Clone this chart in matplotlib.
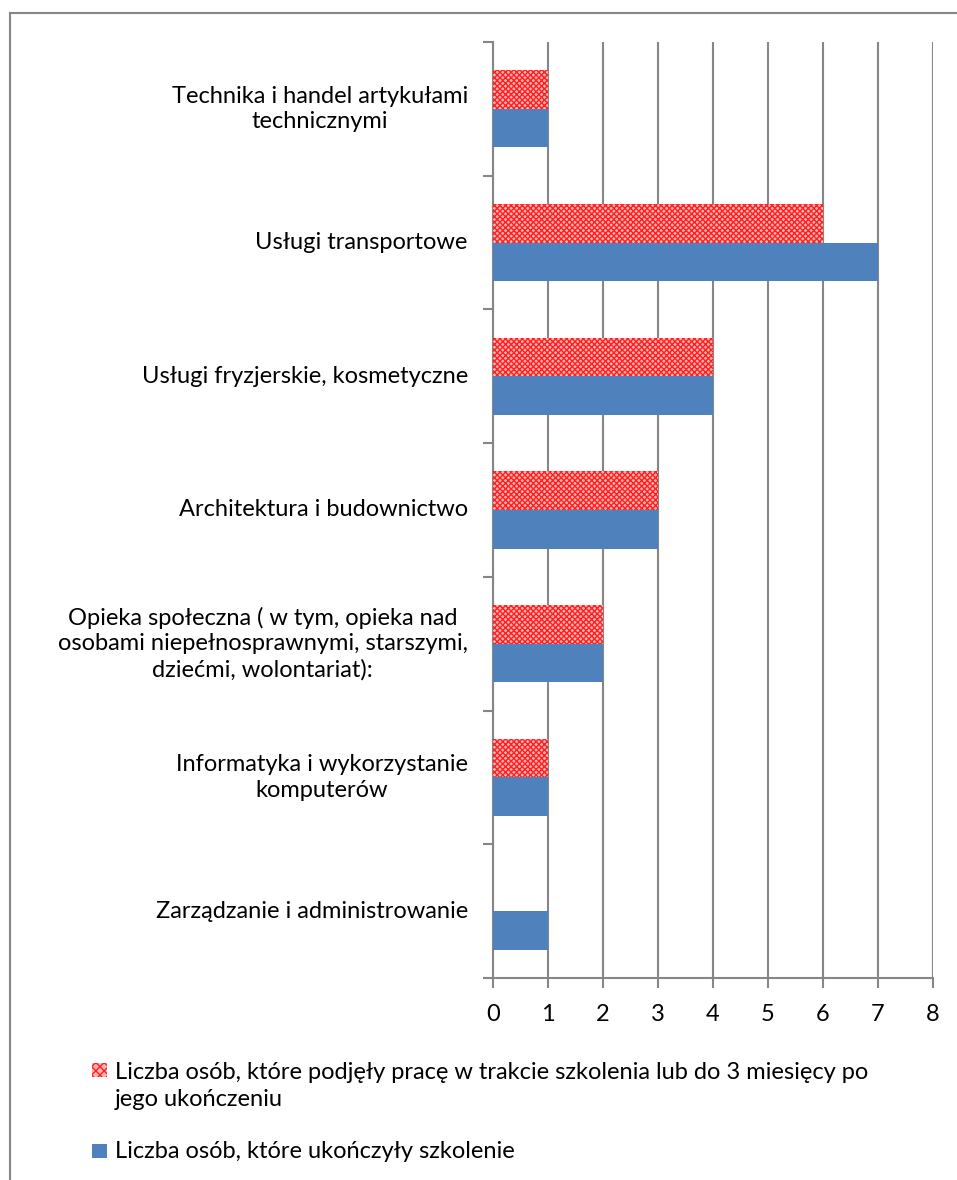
import numpy as np
import matplotlib.pyplot as plt
from matplotlib.lines import Line2D
from matplotlib.patches import Rectangle

### Data
categories = [
    'Zarządzanie i administrowanie',
    'Informatyka i wykorzystanie\nkomputerów',
    'Opieka społeczna ( w tym, opieka nad\nosobami niepełnosprawnymi, starszymi,\ndziećmi, wolontariat):',
    'Architektura i budownictwo',
    'Usługi fryzjerskie, kosmetyczne',
    'Usługi transportowe',
    'Technika i handel artykułami\ntechnicznymi',
]
ukonczyli = [1, 1, 2, 3, 4, 7, 1]
podjeli_prace = [0, 1, 2, 3, 4, 6, 1]
label_ukonczyli = 'Liczba osób, które ukończyły szkolenie'
label_praca = 'Liczba osób, które podjęły pracę w trakcie szkolenia lub do 3 miesięcy po\njego ukończeniu'
x_ticks = [0, 1, 2, 3, 4, 5, 6, 7, 8]

### Style
plt.rcParams['font.family'] = 'Lato'
plt.rcParams['hatch.linewidth'] = 1.0
grey = '#868686'
blue = '#4f81bd'
red_face = '#ffb3b3'
red_hatch = '#ff2020'

W, H = 957, 1180
fig = plt.figure(figsize=(W / 100, H / 100), dpi=100)
ax = fig.add_axes([0.515, 0.1712, 0.46, 0.7932])

y = np.arange(len(categories))
h = 0.288
ax.barh(y - h / 2, ukonczyli, height=h, color=blue, zorder=3)
ax.barh(y + h / 2, podjeli_prace, height=h, facecolor=red_face, edgecolor=red_hatch,
        hatch='xxxxxx', linewidth=0, zorder=3)

ax.set_xlim(0, 8)
ax.set_ylim(-0.5, len(categories) - 0.5)
ax.set_xticks(x_ticks)
ax.set_xticklabels([str(t) for t in x_ticks], fontsize=17)
ax.set_yticks([])
ax.set_yticks(np.arange(len(categories) + 1) - 0.5, minor=True)
ax.tick_params(axis='y', which='minor', length=7, width=1.5, color=grey, direction='out')
ax.tick_params(axis='x', length=7, width=1.5, color=grey, direction='out', pad=12)
ax.grid(axis='x', color=grey, linewidth=1.5, zorder=0)
for s in ['top', 'right']:
    ax.spines[s].set_visible(False)
for s in ['left', 'bottom']:
    ax.spines[s].set_color(grey)
    ax.spines[s].set_linewidth(1.5)

# category labels: right edge by the axis, lines centred among themselves
for yi, cat in zip(y, categories):
    ax.text(-25 / 440, yi, cat, transform=ax.get_yaxis_transform(), fontsize=17,
            ha='right', va='center', multialignment='center', linespacing=1.25)

### Legend (drawn by hand so the swatch sits by the first line)
def fy(py):
    return 1 - py / H

fig.add_artist(Rectangle((92 / W, fy(1077)), 15 / W, 14 / H, facecolor=red_face,
                         edgecolor=red_hatch, hatch='xxxx', linewidth=0))
fig.text(115 / W, fy(1086), label_praca, fontsize=17, va='center', ha='left', linespacing=1.4)
fig.add_artist(Rectangle((92 / W, fy(1158)), 15 / W, 14 / H, facecolor=blue, linewidth=0))
fig.text(115 / W, fy(1152), label_ukonczyli, fontsize=17, va='center', ha='left')

# outer chart frame
fig.add_artist(Line2D([10 / W, 10 / W], [0, fy(13)], color=grey, lw=1.5))
fig.add_artist(Line2D([10 / W, 1], [fy(13), fy(13)], color=grey, lw=1.5))

plt.savefig('out.png', dpi=100)
